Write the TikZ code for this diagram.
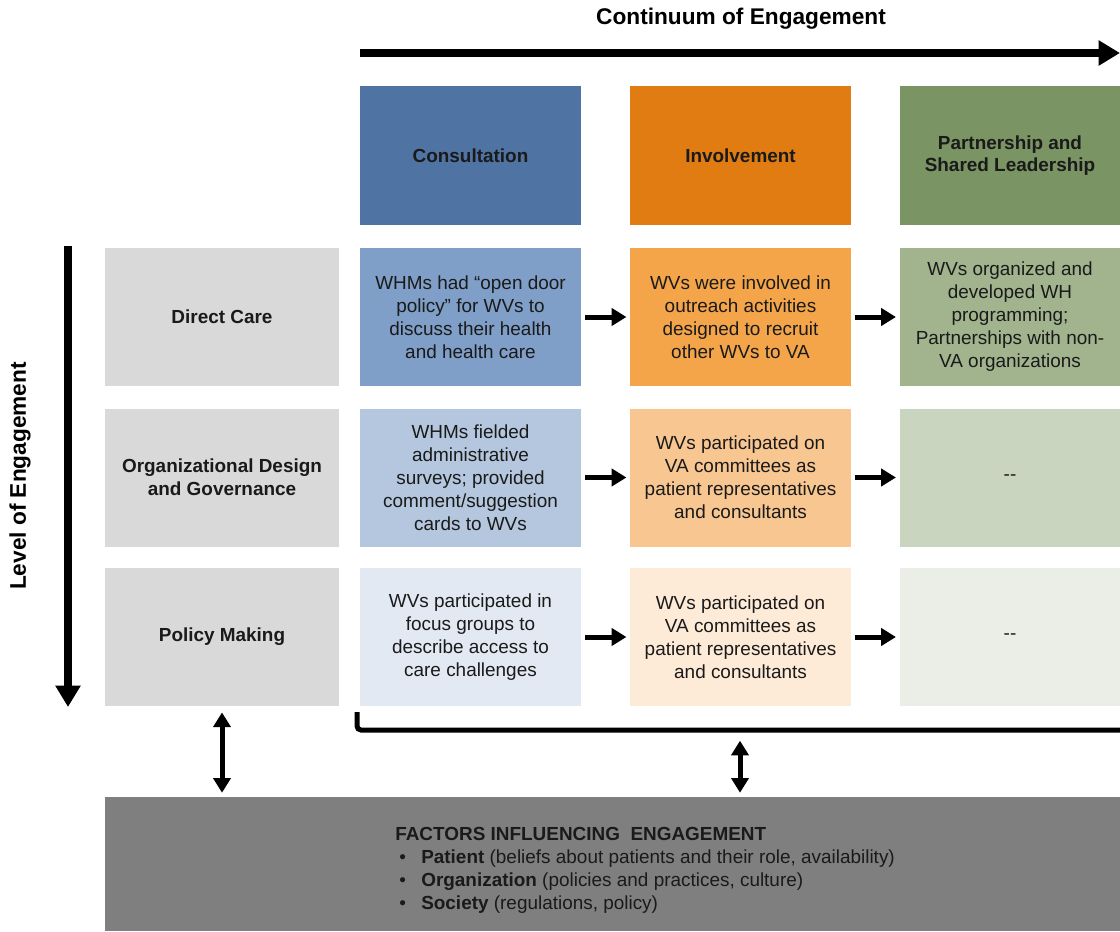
\documentclass[tikz,border=0pt]{standalone}
\usepackage{fontspec}
\setmainfont{Liberation Sans}
\usetikzlibrary{arrows.meta}

\definecolor{hdblue}{HTML}{4F74A3}
\definecolor{hdorange}{HTML}{E07C12}
\definecolor{hdgreen}{HTML}{7A9464}
\definecolor{blueA}{HTML}{7F9FC8}
\definecolor{blueB}{HTML}{B4C7DE}
\definecolor{blueC}{HTML}{E2E9F3}
\definecolor{orangeA}{HTML}{F4A54A}
\definecolor{orangeB}{HTML}{F8C690}
\definecolor{orangeC}{HTML}{FDEBD8}
\definecolor{greenA}{HTML}{A1B48E}
\definecolor{greenB}{HTML}{CAD5BF}
\definecolor{greenC}{HTML}{EBEEE7}
\definecolor{rowgray}{HTML}{D9D9D9}
\definecolor{factgray}{HTML}{7F7F7F}
\definecolor{ink}{HTML}{1A1A1A}

\tikzset{
  cell/.style={minimum width=165.75pt,minimum height=103.5pt,inner sep=0pt,
    align=center,text=ink,font=\fontsize{14.2}{17.25}\selectfont},
  head/.style={cell,minimum height=104.25pt,font=\bfseries\fontsize{14.2}{17}\selectfont},
  rowlabel/.style={cell,fill=rowgray,minimum width=175.5pt,font=\bfseries\fontsize{14.2}{17.25}\selectfont},
  step arrow/.style={line width=3.75pt,-{Triangle[length=11pt,width=12.75pt]},shorten <=3pt,shorten >=2.5pt},
  big arrow/.style={line width=6pt,-{Triangle[length=16pt,width=18pt]}},
  both arrow/.style={line width=3.75pt,{Triangle[length=11pt,width=12.75pt]}-{Triangle[length=11pt,width=12.75pt]}}
}

\begin{document}
\begin{tikzpicture}[x=0.75pt,y=-0.75pt]
  \useasboundingbox (0,0) rectangle (1120,931);

  \node[font=\bfseries\fontsize{17}{20}\selectfont] (title) at (741,19) {Continuum of Engagement};
  \coordinate (cstart) at (360,53);
  \coordinate (cend) at (1120,53);
  \draw[big arrow] (cstart) -- (cend);

  \node[head,fill=hdblue] (consult) at (470.5,155.5) {Consultation};
  \node[head,fill=hdorange] (involve) at (740.5,155.5) {Involvement};
  \node[head,fill=hdgreen] (partner) at (1010,155.5) {Partnership and\\Shared Leadership};

  \node[rowlabel] (direct) at (222,317) {Direct Care};
  \node[rowlabel] (orgdesign) at (222,477.5) {Organizational Design\\and Governance};
  \node[rowlabel] (policy) at (222,636.5) {Policy Making};

  \node[cell,fill=blueA] (c11) at (470.5,317) {WHMs had “open door\\policy” for WVs to\\discuss their health\\and health care};
  \node[cell,fill=orangeA] (c12) at (740.5,317) {WVs were involved in\\outreach activities\\designed to recruit\\other WVs to VA};
  \node[cell,fill=greenA] (c13) at (1010,317) {WVs organized and\\developed WH\\programming;\\Partnerships with non-\\VA organizations};

  \node[cell,fill=blueB] (c21) at (470.5,477.5) {WHMs fielded\\administrative\\surveys; provided\\comment/suggestion\\cards to WVs};
  \node[cell,fill=orangeB] (c22) at (740.5,477.5) {WVs participated on\\VA committees as\\patient representatives\\and consultants};
  \node[cell,fill=greenB] (c23) at (1010,477.5) {-{}-};

  \node[cell,fill=blueC] (c31) at (470.5,637) {WVs participated in\\focus groups to\\describe access to\\care challenges};
  \node[cell,fill=orangeC] (c32) at (740.5,637) {WVs participated on\\VA committees as\\patient representatives\\and consultants};
  \node[cell,fill=greenC] (c33) at (1010,637) {-{}-};

  \foreach \r in {1,2,3} {
    \draw[step arrow] (c\r1) -- (c\r2);
    \draw[step arrow] (c\r2) -- (c\r3);
  }

  \coordinate (lstart) at (68,246);
  \coordinate (lend) at (68,707);
  \draw[big arrow] (lstart) -- (lend);
  \node[rotate=90,font=\bfseries\fontsize{17}{20}\selectfont] (level) at (20,476) {Level of Engagement};

  \draw[line width=3.75pt,rounded corners=3pt] (357,712) |- (1120,730);
  \coordinate (brk) at (740,730);

  \node[fill=factgray,minimum width=761.25pt,minimum height=100.5pt,inner sep=0pt] (factors) at (612.5,864) {};
  \node[anchor=north west,inner sep=0pt,align=left,text=ink,font=\fontsize{14.2}{17.25}\selectfont] (factext) at (395,827)
    {\textbf{FACTORS INFLUENCING\ \ ENGAGEMENT}\\
     \makebox[19.5pt][l]{\hspace{3pt}•}\textbf{Patient} (beliefs about patients and their role, availability)\\
     \makebox[19.5pt][l]{\hspace{3pt}•}\textbf{Organization} (policies and practices, culture)\\
     \makebox[19.5pt][l]{\hspace{3pt}•}\textbf{Society} (regulations, policy)};

  \draw[both arrow,shorten <=5pt,shorten >=3pt] (policy.south) -- (policy.south |- factors.north);
  \draw[both arrow,shorten <=8pt,shorten >=3pt] (brk) -- (brk |- factors.north);
\end{tikzpicture}
\end{document}
